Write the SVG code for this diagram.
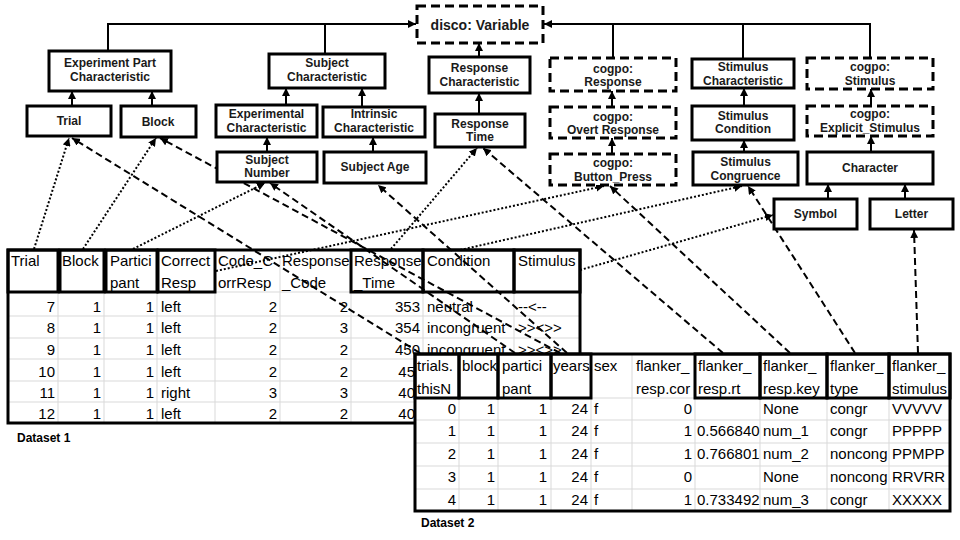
<svg xmlns="http://www.w3.org/2000/svg" width="960" height="540" viewBox="0 0 960 540">
  <defs>
    <marker id="ah" viewBox="0 0 10 10" refX="10" refY="5" markerWidth="8" markerHeight="8" markerUnits="userSpaceOnUse" orient="auto">
      <path d="M0,0 L10,5 L0,10 z" fill="#000"/>
    </marker>
    <style>
      .box rect { fill: #fff; stroke: #000; stroke-width: 3; }
      .dbox rect { fill: #fff; stroke: #000; stroke-width: 3; stroke-dasharray: 9 5; }
      .box text, .dbox text { font-family: "Liberation Sans", Arial, sans-serif; font-weight: bold; font-size: 12px; fill: #1a1a1a; text-anchor: middle; }
      .edge { fill: none; stroke: #000; stroke-width: 2; marker-end: url(#ah); }
      .tree { fill: none; stroke: #000; stroke-width: 2; }
      .dash { fill: none; stroke: #000; stroke-width: 2; stroke-dasharray: 7 4; marker-end: url(#ah); }
      .dot { fill: none; stroke: #000; stroke-width: 2; stroke-dasharray: 2 2; marker-end: url(#ah); }
      .grid { stroke: #d9d9d9; stroke-width: 1; }
      .hdr { fill: none; stroke: #000; stroke-width: 3; }
      .cell { font-family: "Liberation Sans", Arial, sans-serif; font-size: 15px; fill: #000; }
      .num { text-anchor: end; }
      .cap { font-family: "Liberation Sans", Arial, sans-serif; font-weight: bold; font-size: 12px; fill: #000; }
    </style>
  </defs>
  <rect width="960" height="540" fill="#fff"/>

  <!-- Dataset 1 -->
  <g id="dataset1">
    <rect x="8" y="250" width="572" height="173" fill="#fff"/>
    <g class="grid">
      <path d="M58,292V423 M104,292V423 M157,292V423 M215,250V423 M280,250V423 M351,292V423 M423,292V423 M514,292V423"/>
      <path d="M8,316H580 M8,338H580 M8,359H580 M8,381H580 M8,402H580 M215,292H351"/>
    </g>
    <rect class="hdr" x="8" y="250" width="572" height="173"/>
    <rect class="hdr" x="8" y="250" width="50" height="42"/>
    <rect class="hdr" x="60" y="250" width="44" height="42"/>
    <rect class="hdr" x="106" y="250" width="51" height="42"/>
    <rect class="hdr" x="158" y="250" width="57" height="42"/>
    <rect class="hdr" x="351" y="250" width="72" height="42"/>
    <rect class="hdr" x="423" y="250" width="91" height="42"/>
    <rect class="hdr" x="514" y="250" width="66" height="42"/>
    <g class="cell">
      <text x="11" y="266">Trial</text>
      <text x="62" y="266">Block</text>
      <text x="110" y="266">Partici</text><text x="110" y="288">pant</text>
      <text x="161" y="266">Correct</text><text x="161" y="288">Resp</text>
      <text x="218" y="266">Code_C</text><text x="218" y="288">orrResp</text>
      <text x="282" y="266">Response</text><text x="282" y="288">_Code</text>
      <text x="354" y="266">Response</text><text x="354" y="288">_Time</text>
      <text x="427" y="266">Condition</text>
      <text x="518" y="266">Stimulus</text>
    </g>
    <g class="cell num">
      <text x="55" y="312">7</text><text x="55" y="333">8</text><text x="55" y="355">9</text><text x="55" y="377">10</text><text x="55" y="398">11</text><text x="55" y="419">12</text>
      <text x="101" y="312">1</text><text x="101" y="333">1</text><text x="101" y="355">1</text><text x="101" y="377">1</text><text x="101" y="398">1</text><text x="101" y="419">1</text>
      <text x="154" y="312">1</text><text x="154" y="333">1</text><text x="154" y="355">1</text><text x="154" y="377">1</text><text x="154" y="398">1</text><text x="154" y="419">1</text>
      <text x="277" y="312">2</text><text x="277" y="333">2</text><text x="277" y="355">2</text><text x="277" y="377">2</text><text x="277" y="398">3</text><text x="277" y="419">2</text>
      <text x="348" y="312">2</text><text x="348" y="333">3</text><text x="348" y="355">2</text><text x="348" y="377">2</text><text x="348" y="398">3</text><text x="348" y="419">2</text>
      <text x="420" y="312">353</text><text x="420" y="333">354</text><text x="420" y="355">450</text>
      <text x="415" y="377">45</text><text x="415" y="398">40</text><text x="415" y="419">40</text>
    </g>
    <g class="cell">
      <text x="161" y="312">left</text><text x="161" y="333">left</text><text x="161" y="355">left</text><text x="161" y="377">left</text><text x="161" y="398">right</text><text x="161" y="419">left</text>
      <text x="427" y="312">neutral</text><text x="427" y="333">incongruent</text><text x="427" y="355">incongruent</text>
      <text x="518" y="312">--&lt;--</text><text x="518" y="333">&gt;&gt;&lt;&gt;&gt;</text><text x="518" y="355">&gt;&gt;&lt;&gt;&gt;</text>
    </g>
    <text class="cap" x="17" y="442">Dataset 1</text>
  </g>

  <!-- Dataset 2 -->
  <g id="dataset2">
    <rect x="415" y="354" width="535" height="157" fill="#fff"/>
    <g class="grid">
      <path d="M459,398V511 M498,398V511 M551,398V511 M591,354V511 M632,354V511 M695,398V511 M760,398V511 M827,398V511 M889,398V511"/>
      <path d="M415,420H950 M415,443H950 M415,466H950 M415,489H950 M591,398H695"/>
    </g>
    <rect class="hdr" x="415" y="354" width="535" height="157"/>
    <rect class="hdr" x="415" y="354" width="44" height="44"/>
    <rect class="hdr" x="459" y="354" width="39" height="44"/>
    <rect class="hdr" x="498" y="354" width="53" height="44"/>
    <rect class="hdr" x="551" y="354" width="40" height="44"/>
    <rect class="hdr" x="695" y="354" width="65" height="44"/>
    <rect class="hdr" x="760" y="354" width="67" height="44"/>
    <rect class="hdr" x="827" y="354" width="62" height="44"/>
    <rect class="hdr" x="889" y="354" width="61" height="44"/>
    <g class="cell">
      <text x="417" y="371">trials.</text><text x="417" y="394">thisN</text>
      <text x="462" y="371">block</text>
      <text x="502" y="371">partici</text><text x="502" y="394">pant</text>
      <text x="553" y="371">years</text>
      <text x="594" y="371">sex</text>
      <text x="636" y="371">flanker_</text><text x="636" y="394">resp.cor</text>
      <text x="698" y="371">flanker_</text><text x="698" y="394">resp.rt</text>
      <text x="763" y="371">flanker_</text><text x="763" y="394">resp.key</text>
      <text x="830" y="371">flanker_</text><text x="830" y="394">type</text>
      <text x="892" y="371">flanker_</text><text x="892" y="394">stimulus</text>
    </g>
    <g class="cell num">
      <text x="456" y="414">0</text><text x="456" y="436">1</text><text x="456" y="459">2</text><text x="456" y="482">3</text><text x="456" y="505">4</text>
      <text x="495" y="414">1</text><text x="495" y="436">1</text><text x="495" y="459">1</text><text x="495" y="482">1</text><text x="495" y="505">1</text>
      <text x="547" y="414">1</text><text x="547" y="436">1</text><text x="547" y="459">1</text><text x="547" y="482">1</text><text x="547" y="505">1</text>
      <text x="588" y="414">24</text><text x="588" y="436">24</text><text x="588" y="459">24</text><text x="588" y="482">24</text><text x="588" y="505">24</text>
      <text x="692" y="414">0</text><text x="692" y="436">1</text><text x="692" y="459">1</text><text x="692" y="482">0</text><text x="692" y="505">1</text>
    </g>
    <g class="cell">
      <text x="594" y="414">f</text><text x="594" y="436">f</text><text x="594" y="459">f</text><text x="594" y="482">f</text><text x="594" y="505">f</text>
      <text x="697" y="436">0.566840</text><text x="697" y="459">0.766801</text><text x="697" y="505">0.733492</text>
      <text x="763" y="414">None</text><text x="763" y="436">num_1</text><text x="763" y="459">num_2</text><text x="763" y="482">None</text><text x="763" y="505">num_3</text>
      <text x="830" y="414">congr</text><text x="830" y="436">congr</text><text x="830" y="459">noncong</text><text x="830" y="482">noncong</text><text x="830" y="505">congr</text>
      <text x="892" y="414">VVVVV</text><text x="892" y="436">PPPPP</text><text x="892" y="459">PPMPP</text><text x="892" y="482">RRVRR</text><text x="892" y="505">XXXXX</text>
    </g>
    <text class="cap" x="421" y="527">Dataset 2</text>
  </g>

  <!-- Connectors -->
  <g id="connectors">
    <!-- hierarchy -->
    <path class="tree" d="M108,51V24H416 M325,54V24"/>
    <path class="edge" d="M300,24H416"/>
    <path class="tree" d="M870,58V24H544 M743,59V24 M613,58V24"/>
    <path class="edge" d="M700,24H544"/>
    <path class="edge" d="M479,57V43"/>
    <path class="edge" d="M72,106V91"/>
    <path class="edge" d="M152,106V91"/>
    <path class="edge" d="M286,105V88"/>
    <path class="edge" d="M267,152V137"/>
    <path class="edge" d="M362,107V88"/>
    <path class="edge" d="M373,152V137"/>
    <path class="edge" d="M479,114V93"/>
    <path class="edge" d="M612,107V91"/>
    <path class="edge" d="M612,154V138"/>
    <path class="edge" d="M744,106V88"/>
    <path class="edge" d="M744,152V140"/>
    <path class="edge" d="M871,106V89"/>
    <path class="edge" d="M871,152V136"/>
    <path class="edge" d="M828,199V184"/>
    <path class="edge" d="M905,199V184"/>
    <!-- dataset 1 columns -->
    <path class="dot" d="M34,249L69,138"/>
    <path class="dot" d="M83,249L156,138"/>
    <path class="dot" d="M133,249L265,183"/>
    <path class="dot" d="M216,271L604,186"/>
    <path class="dot" d="M391,249L477,148"/>
    <path class="dot" d="M460,250L742,186"/>
    <path class="dot" d="M580,270L773,215"/>
    <!-- dataset 2 columns -->
    <path class="dash" d="M420,353L72,138"/>
    <path class="dash" d="M560,353L160,138"/>
    <path class="dash" d="M515,353L270,183"/>
    <path class="dash" d="M567,353L378,185"/>
    <path class="dash" d="M723,353L483,148"/>
    <path class="dash" d="M790,353L610,186"/>
    <path class="dash" d="M855,353L748,186"/>
    <path class="dash" d="M918,353L914,230"/>
  </g>

  <!-- Nodes -->
  <g id="disco-variable" class="dbox"><rect x="417" y="6" width="126" height="37"/><text x="480" y="30" style="font-size:14px">disco: Variable</text></g>
  <g id="experiment-part-characteristic" class="box"><rect x="49" y="51" width="122" height="40"/><text x="110" y="67">Experiment Part</text><text x="110" y="81">Characteristic</text></g>
  <g id="trial" class="box"><rect x="27" y="106" width="84" height="30"/><text x="69" y="125">Trial</text></g>
  <g id="block" class="box"><rect x="121" y="106" width="75" height="31"/><text x="158" y="126">Block</text></g>
  <g id="subject-characteristic" class="box"><rect x="269" y="54" width="116" height="34"/><text x="327" y="67">Subject</text><text x="327" y="81">Characteristic</text></g>
  <g id="experimental-characteristic" class="box"><rect x="216" y="105" width="101" height="32"/><text x="266.5" y="118">Experimental</text><text x="266.5" y="132">Characteristic</text></g>
  <g id="subject-number" class="box"><rect x="217" y="152" width="100" height="30"/><text x="267" y="164">Subject</text><text x="267" y="177">Number</text></g>
  <g id="intrinsic-characteristic" class="box"><rect x="323" y="107" width="102" height="30"/><text x="374" y="118">Intrinsic</text><text x="374" y="132">Characteristic</text></g>
  <g id="subject-age" class="box"><rect x="324" y="152" width="102" height="31"/><text x="375" y="171">Subject Age</text></g>
  <g id="response-characteristic" class="box"><rect x="429" y="57" width="101" height="36"/><text x="479.5" y="72">Response</text><text x="479.5" y="86">Characteristic</text></g>
  <g id="response-time" class="box"><rect x="435" y="114" width="90" height="33"/><text x="480" y="128">Response</text><text x="480" y="141">Time</text></g>
  <g id="cogpo-response" class="dbox"><rect x="550" y="58" width="126" height="33"/><text x="613" y="73">cogpo:</text><text x="613" y="86">Response</text></g>
  <g id="cogpo-overt-response" class="dbox"><rect x="550" y="107" width="126" height="31"/><text x="613" y="121">cogpo:</text><text x="613" y="134">Overt Response</text></g>
  <g id="cogpo-button-press" class="dbox"><rect x="550" y="154" width="126" height="31"/><text x="613" y="167">cogpo:</text><text x="613" y="181">Button_Press</text></g>
  <g id="stimulus-characteristic" class="box"><rect x="692" y="59" width="102" height="29"/><text x="743" y="71">Stimulus</text><text x="743" y="85">Characteristic</text></g>
  <g id="stimulus-condition" class="box"><rect x="692" y="106" width="102" height="34"/><text x="743" y="120">Stimulus</text><text x="743" y="133">Condition</text></g>
  <g id="stimulus-congruence" class="box"><rect x="693" y="152" width="105" height="33"/><text x="745.5" y="166">Stimulus</text><text x="745.5" y="180">Congruence</text></g>
  <g id="cogpo-stimulus" class="dbox"><rect x="807" y="58" width="126" height="31"/><text x="870" y="71">cogpo:</text><text x="870" y="85">Stimulus</text></g>
  <g id="cogpo-explicit-stimulus" class="dbox"><rect x="807" y="106" width="126" height="30"/><text x="870" y="118">cogpo:</text><text x="870" y="132">Explicit_Stimulus</text></g>
  <g id="character" class="box"><rect x="807" y="152" width="126" height="32"/><text x="870" y="172">Character</text></g>
  <g id="symbol" class="box"><rect x="774" y="199" width="83" height="30"/><text x="815.5" y="218">Symbol</text></g>
  <g id="letter" class="box"><rect x="870" y="199" width="83" height="30"/><text x="911.5" y="218">Letter</text></g>
</svg>
